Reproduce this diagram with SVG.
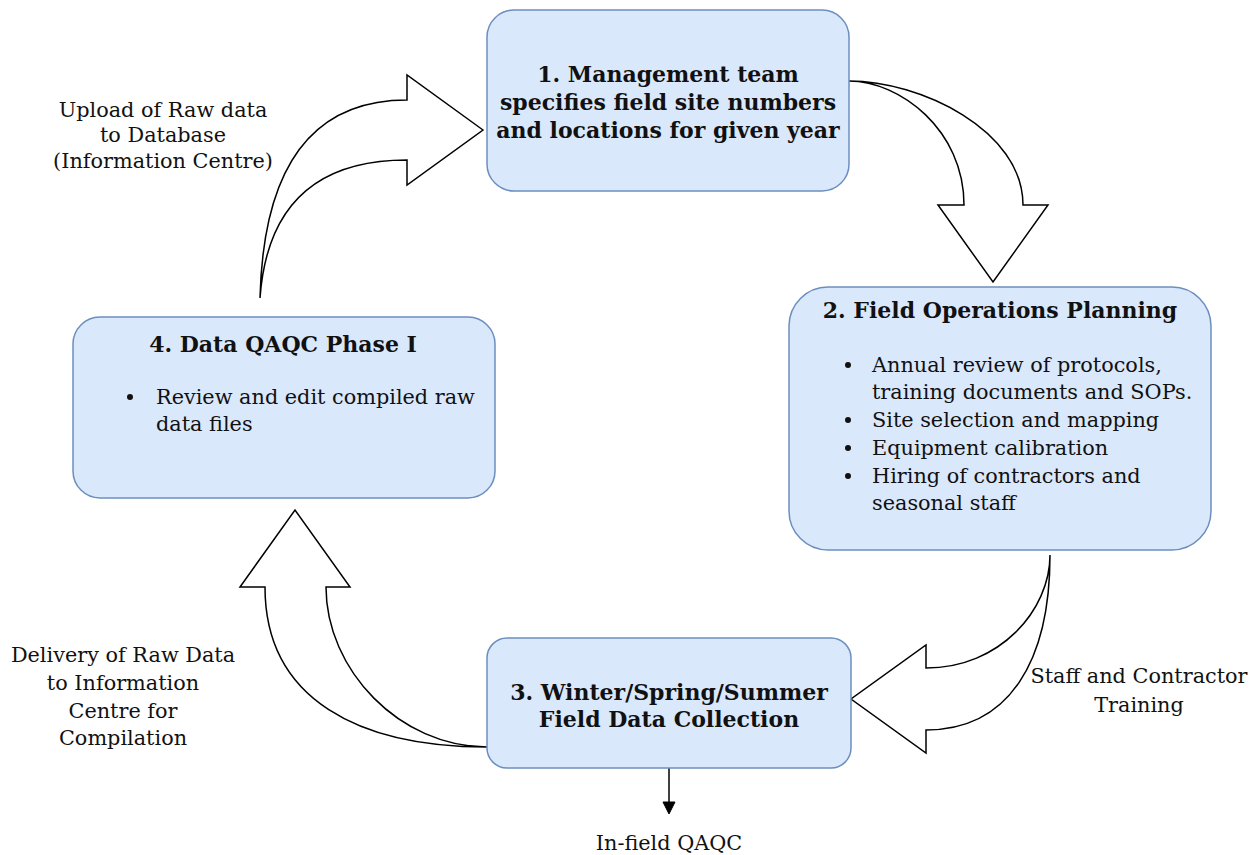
<svg xmlns="http://www.w3.org/2000/svg" width="1256" height="855" viewBox="0 0 1256 855">
<style>
.box{fill:#dae8fc;stroke:#6c8ebf;stroke-width:1.5}
.t{font-family:"DejaVu Serif","Liberation Serif",serif;font-size:20.8px;fill:#111}
.b{font-weight:bold;font-size:22px}
.c{text-anchor:middle}
.arr{fill:#fff;stroke:#000;stroke-width:1.5;stroke-linejoin:miter}
.dot{fill:#111}
</style>
<rect width="1256" height="855" fill="#fff"/>
<g id="connectors">
<path id="arrow-upload" class="arr" d="M483,130 L407,75 L407,100 Q265,100 260,298 Q270,160 407,160 L407,185 Z"/>
<path id="arrow-plan" class="arr" d="M849,81 C920,81 1023,130 1023,205 L1048,205 L993,282 L938,205 L964,205 C964,130 900,81 849,81 Z"/>
<path id="arrow-training" class="arr" d="M1050,555 C1050,610 1000,668 926,668 L926,645 L851,699 L926,753 L926,730 C1010,730 1050,660 1050,555 Z"/>
<path id="arrow-delivery" class="arr" d="M487,747 C360,747 265,700 265,587 L240,587 L295,510 L350,587 L326,587 C326,670 400,747 487,747 Z"/>
<g id="arrow-infield">
<line x1="669" y1="768" x2="669" y2="803" stroke="#000" stroke-width="1.5"/>
<path d="M663,802 L675,802 L669,814 Z" fill="#000" stroke="#000" stroke-width="1"/>
</g>
</g>
<g id="node1">
<rect class="box" x="487" y="10" width="362" height="181" rx="27"/>
<text class="t b c" x="668" y="82">1. Management team</text>
<text class="t b c" x="668" y="110">specifies field site numbers</text>
<text class="t b c" x="668" y="138">and locations for given year</text>
</g>
<g id="node2">
<rect class="box" x="789" y="287" width="422" height="263" rx="39"/>
<text class="t b c" x="1000" y="318">2. Field Operations Planning</text>
<circle class="dot" cx="848" cy="365" r="3"/>
<circle class="dot" cx="848" cy="420" r="3"/>
<circle class="dot" cx="848" cy="448" r="3"/>
<circle class="dot" cx="848" cy="476" r="3"/>
<text class="t" x="872" y="372">Annual review of protocols,</text>
<text class="t" x="872" y="399">training documents and SOPs.</text>
<text class="t" x="872" y="427">Site selection and mapping</text>
<text class="t" x="872" y="455">Equipment calibration</text>
<text class="t" x="872" y="483">Hiring of contractors and</text>
<text class="t" x="872" y="510">seasonal staff</text>
</g>
<g id="node3">
<rect class="box" x="487" y="638" width="364" height="130" rx="20"/>
<text class="t b c" x="669" y="700">3. Winter/Spring/Summer</text>
<text class="t b c" x="669" y="727">Field Data Collection</text>
</g>
<g id="node4">
<rect class="box" x="73" y="317" width="422" height="181" rx="27"/>
<text class="t b c" x="283" y="352">4. Data QAQC Phase I</text>
<circle class="dot" cx="130" cy="397" r="3"/>
<text class="t" x="156" y="404">Review and edit compiled raw</text>
<text class="t" x="156" y="431">data files</text>
</g>
<g id="labels">
<text class="t c" x="163" y="117">Upload of Raw data</text>
<text class="t c" x="163" y="142">to Database</text>
<text class="t c" x="163" y="168">(Information Centre)</text>
<text class="t c" x="123" y="662">Delivery of Raw Data</text>
<text class="t c" x="123" y="690">to Information</text>
<text class="t c" x="123" y="718">Centre for</text>
<text class="t c" x="123" y="745">Compilation</text>
<text class="t c" x="1139" y="683">Staff and Contractor</text>
<text class="t c" x="1139" y="712">Training</text>
<text class="t c" x="669" y="850">In-field QAQC</text>
</g>
</svg>
